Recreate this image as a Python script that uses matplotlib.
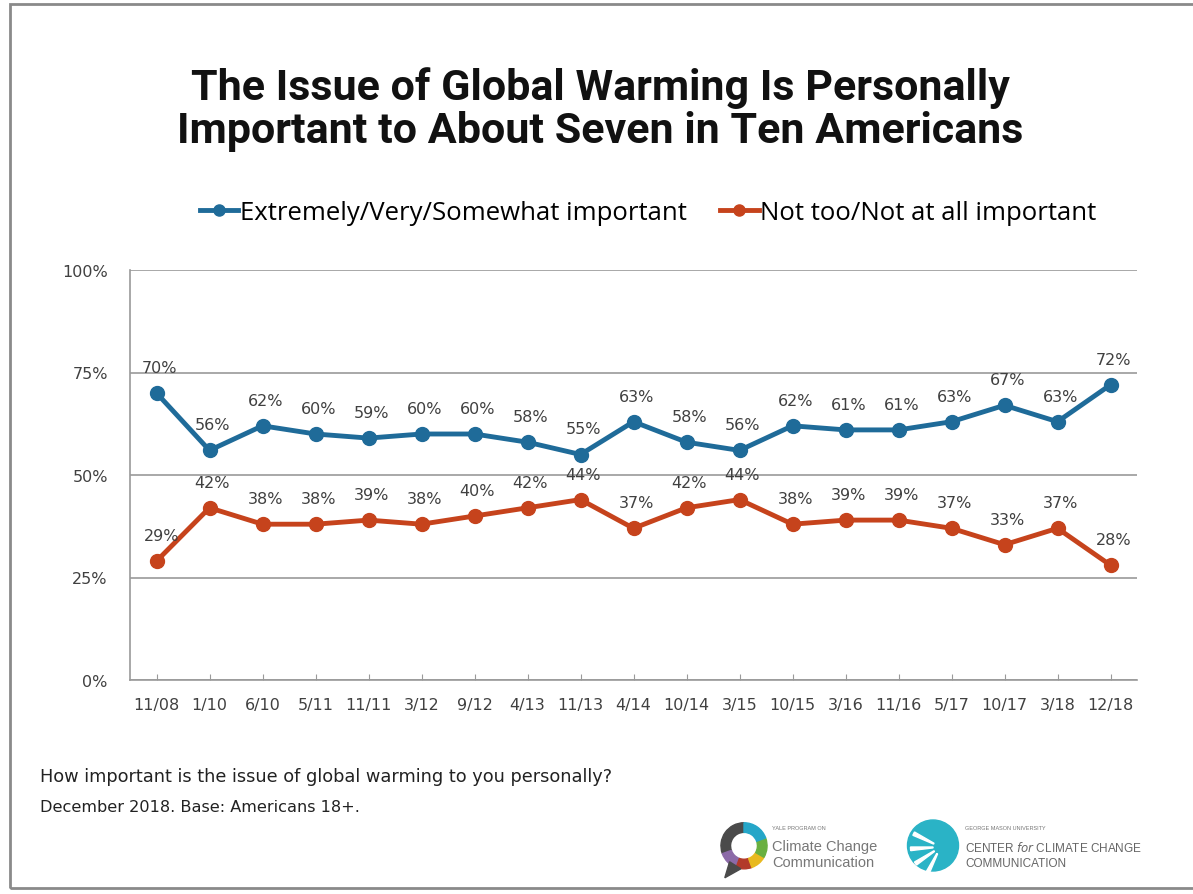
import matplotlib.pyplot as plt
from matplotlib.patches import Wedge, Rectangle, Polygon, Circle

# data
dates = ['11/08', '1/10', '6/10', '5/11', '11/11', '3/12', '9/12', '4/13', '11/13', '4/14',
         '10/14', '3/15', '10/15', '3/16', '11/16', '5/17', '10/17', '3/18', '12/18']
important = [70, 56, 62, 60, 59, 60, 60, 58, 55, 63, 58, 56, 62, 61, 61, 63, 67, 63, 72]
not_important = [29, 42, 38, 38, 39, 38, 40, 42, 44, 37, 42, 44, 38, 39, 39, 37, 33, 37, 28]
series_names = ['Extremely/Very/Somewhat important', 'Not too/Not at all important']
yticks = [0, 25, 50, 75, 100]

blue = '#1f6b99'
orange = '#c6431c'
grey_txt = '#404040'

plt.rcParams['font.family'] = ['Liberation Sans', 'DejaVu Sans']

fig = plt.figure(figsize=(11.93, 8.95), dpi=100)
W, H = 1193, 895

# outer frame
fig.add_artist(Rectangle((10 / W, 1 - 889 / H), 1.2, (889 - 5) / H, transform=fig.transFigure,
                         fill=False, edgecolor='#8a8a8a', lw=2))

ax = fig.add_axes([130 / W, 1 - 681 / H, (1137 - 130) / W, (681 - 271) / H])
x = list(range(len(dates)))
l1, = ax.plot(x, important, color=blue, lw=3.5, marker='o', ms=10, label=series_names[0], zorder=3)
l2, = ax.plot(x, not_important, color=orange, lw=3.5, marker='o', ms=10, label=series_names[1], zorder=3)

for i, v in enumerate(important):
    ax.annotate(f'{v}%', (i, v), xytext=(2, 13), textcoords='offset points', ha='center',
                va='bottom', fontsize=11.5, color=grey_txt, family='DejaVu Sans')
for i, v in enumerate(not_important):
    dx = 2 if i else 4
    ax.annotate(f'{v}%', (i, v), xytext=(dx, 13), textcoords='offset points', ha='center',
                va='bottom', fontsize=11.5, color=grey_txt, family='DejaVu Sans')

ax.set_xlim(-0.5, len(dates) - 0.5)
ax.set_ylim(0, 100)
ax.set_yticks(yticks)
ax.set_yticklabels([f'{t}%' for t in yticks], family='DejaVu Sans')
ax.set_xticks(x)
ax.set_xticklabels(dates, family='DejaVu Sans')
ax.grid(axis='y', color='#9a9a9a', lw=1.2)
ax.set_axisbelow(True)
for s in ['top', 'right']:
    ax.spines[s].set_visible(False)
for s in ['left', 'bottom']:
    ax.spines[s].set_color('#9a9a9a')
    ax.spines[s].set_linewidth(1.2)
ax.tick_params(axis='y', length=0, pad=16, labelsize=11.5, labelcolor=grey_txt)
ax.tick_params(axis='x', direction='in', length=4, color='#9a9a9a', pad=12,
               labelsize=11.5, labelcolor=grey_txt)

# title, two lines placed by baseline
fig.text(600 / W, 1 - 100 / H, 'The Issue of Global Warming Is Personally',
         ha='center', va='baseline', fontsize=31, fontweight='bold', family='Roboto', color='#111111')
fig.text(600 / W, 1 - 143 / H, 'Important to About Seven in Ten Americans',
         ha='center', va='baseline', fontsize=31, fontweight='bold', family='Roboto', color='#111111')

fig.legend(handles=[l1, l2], loc='center', bbox_to_anchor=(648 / W, 1 - 213 / H), ncol=2,
           frameon=False, prop={'family': 'Open Sans', 'size': 18.5}, handlelength=1.5,
           handletextpad=0.05, columnspacing=1.3, markerscale=0.8)

fig.text(40 / W, 1 - 777 / H, 'How important is the issue of global warming to you personally?',
         ha='left', va='center', fontsize=12.8, color='#222222', family='DejaVu Sans')
fig.text(40 / W, 1 - 808 / H, 'December 2018. Base: Americans 18+.',
         ha='left', va='center', fontsize=11.6, color='#222222', family='DejaVu Sans')

# logos (rough)
lax = fig.add_axes([712 / W, 1 - 882 / H, 64 / W, 64 / H])
lax.set_xlim(-1, 1)
lax.set_ylim(-1, 1)
lax.set_aspect('equal')
lax.axis('off')
ring = [(90, 200, '#4a4a4a'), (200, 250, '#8c6aa8'), (250, 290, '#b23a2a'), (290, 330, '#e8b91f'),
        (330, 20, '#69b040'), (20, 90, '#25a6c8')]
for a, b, c in ring:
    lax.add_patch(Wedge((0, 0.1), 0.72, a, b if b > a else b + 360, width=0.3, color=c))
lax.add_patch(Polygon([(-0.45, -0.4), (-0.6, -0.9), (-0.1, -0.62)], color='#4a4a4a'))
fig.text(772 / W, 1 - 830 / H, 'YALE PROGRAM ON', fontsize=4, color='#777777')
fig.text(772 / W, 1 - 847 / H, 'Climate Change', fontsize=10.5, color='#777777', va='center')
fig.text(772 / W, 1 - 863 / H, 'Communication', fontsize=10.5, color='#777777', va='center')

gax = fig.add_axes([900 / W, 1 - 878 / H, 60 / W, 60 / H])
gax.set_xlim(-1, 1)
gax.set_ylim(-1, 1)
gax.set_aspect('equal')
gax.axis('off')
gax.add_patch(Circle((0.1, 0.05), 0.85, color='#2ab3c6'))
for ang in [150, 180, 210, 240]:
    gax.add_patch(Wedge((0.35, 0.0), 1.0, ang, ang + 7, width=0.75, color='white'))
fig.text(965 / W, 1 - 830 / H, 'GEORGE MASON UNIVERSITY', fontsize=4, color='#777777')
fig.text(965 / W, 1 - 848 / H, 'CENTER $\\it{for}$ CLIMATE CHANGE', fontsize=8.5, color='#666666', va='center')
fig.text(965 / W, 1 - 864 / H, 'COMMUNICATION', fontsize=8.5, color='#666666', va='center')

fig.savefig('out.png', dpi=100)
